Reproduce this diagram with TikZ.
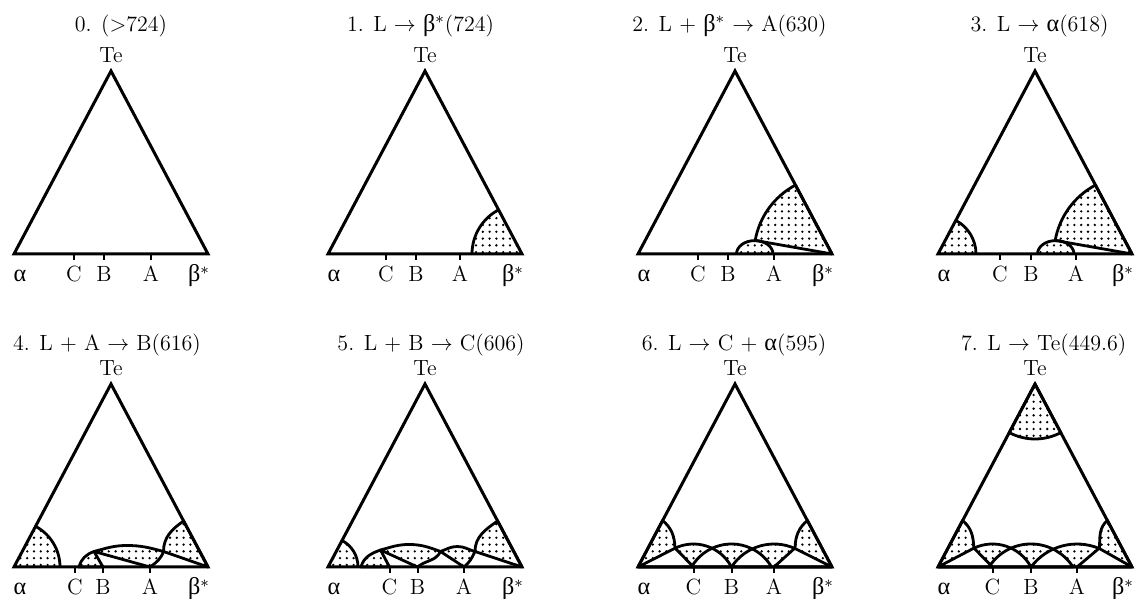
\documentclass[tikz,border=0pt]{standalone}
\usepackage{fontspec}
\usetikzlibrary{patterns.meta}
\newfontfamily\grk[Scale=1.1]{Liberation Serif}
\newcommand{\al}{{\grk α}}
\newcommand{\bs}{{\grk β}$^*$}

% triangle with ticks at C, B, A and its labels
\newcommand{\tern}[3]{%
  \coordinate (lc) at (0,0);
  \coordinate (rc) at (194,0);
  \coordinate (tc) at (97,183);
  \foreach \tk in {#1,#2,#3} \draw[tickmark] (\tk,0) -- (\tk,-6);
  \draw[triedge] (lc) -- (rc) -- (tc) -- cycle;
  \node[lab] (nte) at (97,191) {Te};
  \node[lab] (nal) at (6,-28) {\al};
  \node[lab] (nC) at (#1,-28) {C};
  \node[lab] (nB) at (#2,-28) {B};
  \node[lab] (nA) at (#3,-28) {A};
  \node[lab] (nbe) at (185,-28) {\bs};
}

% overlapping fields \ra \rc \rb \rA \rbe along the base
\newcommand{\overlap}{%
  \fill[field] \ra; \fill[field] \rc; \fill[field] \rb; \fill[field] \rA; \fill[field] \rbe;
  \begin{scope}\clip \ra; \fill[white] \rc; \end{scope}
  \begin{scope}\clip \rc; \fill[white] \rb; \end{scope}
  \begin{scope}\clip \rb; \fill[white] \rA; \end{scope}
  \begin{scope}\clip \rA; \fill[white] \rbe; \end{scope}
  \draw[bound] \ra; \draw[bound] \rc; \draw[bound] \rb; \draw[bound] \rA; \draw[bound] \rbe;
}

\begin{document}
\begin{tikzpicture}[x=0.5pt,y=0.5pt,
  triedge/.style={line width=1.5pt,line join=miter},
  bound/.style={line width=1.4pt,line join=round},
  tieline/.style={line width=0.6pt},
  field/.style={pattern={Dots[distance=3.4pt,radius=0.65pt]}},
  tickmark/.style={line width=1pt},
  lab/.style={anchor=base,inner sep=0pt,font=\fontsize{11}{13}\selectfont},
  ttl/.style={anchor=base,inner sep=0pt,font=\fontsize{11}{13}\selectfont}]
\useasboundingbox (0,0) rectangle (1136,599);

% 0
\begin{scope}[shift={(14,345)}]
  \tern{60}{90}{137}
\end{scope}
\node[ttl] (t0) at (121,567.3) {0. (>724)};

% 1
\begin{scope}[shift={(328,345)}]
  \fill[field] (194,0) -- (144,0) arc[start angle=180,end angle=117.93,radius=50] -- cycle;
  \draw[bound] (144,0) arc[start angle=180,end angle=117.93,radius=50];
  \tern{58}{88}{132}
\end{scope}
\node[ttl] (t1) at (420.5,567.3) {1. L $\to$ \bs(724)};

% 2
\begin{scope}[shift={(638,345)}]
  \fill[field] (194,0) -- ++(117.93:78) arc[start angle=117.93,end angle=170,radius=78] -- cycle;
  \fill[field] (135,0) arc[start angle=0,end angle=180,x radius=18.25,y radius=13.4] -- cycle;
  \draw[bound] (194,0) -- ++(117.93:78) arc[start angle=117.93,end angle=170,radius=78] -- (194,0);
  \draw[bound] (135,0) arc[start angle=0,end angle=180,x radius=18.25,y radius=13.4];
  \draw[tieline] (125,12) -- (194,0);
  \tern{60}{90}{136}
\end{scope}
\node[ttl] (t2) at (729.5,567.3) {2. L + \bs{} $\to$ A(630)};

% 3
\begin{scope}[shift={(938,345)}]
  \fill[field] (0,0) -- (38,0) arc[start angle=0,end angle=62.07,radius=38] -- cycle;
  \draw[bound] (38,0) arc[start angle=0,end angle=62.07,radius=38];
  \fill[field] (194,0) -- ++(117.93:78) arc[start angle=117.93,end angle=170,radius=78] -- cycle;
  \fill[field] (136,0) arc[start angle=0,end angle=180,x radius=18.25,y radius=13.4] -- cycle;
  \draw[bound] (194,0) -- ++(117.93:78) arc[start angle=117.93,end angle=170,radius=78] -- (194,0);
  \draw[bound] (136,0) arc[start angle=0,end angle=180,x radius=18.25,y radius=13.4];
  \draw[tieline] (126,12) -- (194,0);
  \tern{62}{93}{138}
\end{scope}
\node[ttl] (t3) at (1039.5,567.3) {3. L $\to$ \al(618)};

% 4
\begin{scope}[shift={(14,32)}]
  \fill[field] (0,0) -- (46,0) arc[start angle=0,end angle=62.07,radius=46] -- cycle;
  \draw[bound] (46,0) arc[start angle=0,end angle=62.07,radius=46];
  \filldraw[field,bound] (65,0) to[out=75,in=200] (80,15.5) -- (89,0) -- cycle;
  \filldraw[field,bound] (80,15.5) to[out=15,in=180] (113,21.5) to[out=0,in=165] (149.5,15.5)
    to[out=-110,in=35] (136,0) -- cycle;
  \filldraw[field,bound] (194,0) -- (169.6,46) to[out=215,in=90] (149.5,15.5) -- cycle;
  \tern{61}{89}{136}
\end{scope}
\node[ttl] (t4) at (107,248.3) {4. L + A $\to$ B(616)};

% 5
\begin{scope}[shift={(328,32)}]
  \fill[field] (0,0) -- (30,0) arc[start angle=0,end angle=62.07,radius=30] -- cycle;
  \draw[bound] (30,0) arc[start angle=0,end angle=62.07,radius=30];
  \filldraw[field,bound] (33,0) to[out=75,in=200] (52.5,17) -- (61.5,0) -- cycle;
  \filldraw[field,bound] (52.5,17) to[out=15,in=180] (81,22.5) to[out=0,in=160] (112.5,15.5)
    to[out=-115,in=40] (89.5,0) -- cycle;
  \filldraw[field,bound] (112.5,15.5) to[out=20,in=180] (129.5,20.5) to[out=0,in=165] (147,15.5)
    to[out=-115,in=40] (136,0) -- cycle;
  \filldraw[field,bound] (194,0) -- (169.6,46) to[out=215,in=90] (147,15.5) -- cycle;
  \tern{61.5}{89.5}{136}
\end{scope}
\node[ttl] (t5) at (431,248.3) {5. L + B $\to$ C(606)};

% 6
\begin{scope}[shift={(638,32)}]
  \def\ra{(0,0) -- (24.6,46.5) to[out=-40,in=92] (37,19) -- (55.5,0) -- cycle}
  \def\rc{(0,0) -- (36.8,18.7) arc[start angle=115.8,end angle=27.7,radius=42.9] -- cycle}
  \def\rb{(53.5,0) arc[start angle=149.8,end angle=30.2,radius=46.3] -- cycle}
  \def\rA{(93.5,0) arc[start angle=146.8,end angle=65.1,radius=50.8] -- (194,0) -- cycle}
  \def\rbe{(194,0) -- (169.4,46.5) to[out=220,in=88] (157,19) -- (136,0) -- cycle}
  \overlap
  \tern{55.5}{93.5}{136}
\end{scope}
\node[ttl] (t6) at (734,248.3) {6. L $\to$ C + \al(595)};

% 7
\begin{scope}[shift={(938,32)}]
  \filldraw[field,bound] (97,183) -- ++(-117.93:55) arc[start angle=-117.93,end angle=-62.07,radius=55] -- cycle;
  \def\ra{(0,0) -- (24.6,46.5) to[out=-40,in=92] (35.8,19) -- (54.5,0) -- cycle}
  \def\rc{(0,0) -- (35.6,18.7) arc[start angle=115.6,end angle=28.3,radius=43.7] -- cycle}
  \def\rb{(51,0) arc[start angle=147.5,end angle=32.5,radius=49.8] -- cycle}
  \def\rA{(93,0) arc[start angle=143.1,end angle=66.9,radius=57.5] -- (194,0) -- cycle}
  \def\rbe{(194,0) -- (169.4,46.5) to[out=220,in=88] (161.5,19) -- (139,0) -- cycle}
  \overlap
  \tern{54.5}{93}{139}
\end{scope}
\node[ttl] (t7) at (1043.7,248.3) {7. L $\to$ Te(449.6)};
\end{tikzpicture}
\end{document}
